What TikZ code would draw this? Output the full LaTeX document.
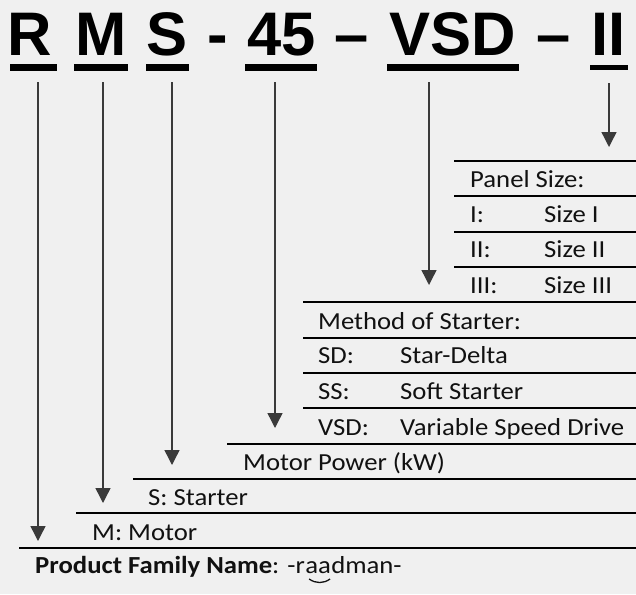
\documentclass[tikz,border=0pt]{standalone}
\usepackage{fontspec}
\setmainfont{Carlito}[FakeStretch=1.09]
\newfontfamily\titlefont{Liberation Sans}
\usetikzlibrary{positioning,arrows.meta}

\definecolor{bg}{HTML}{F0F0F0}
\definecolor{ink}{HTML}{111111}
\definecolor{arrowgray}{HTML}{3A3A3A}

\tikzset{
  code/.style={font=\titlefont\bfseries\fontsize{61.5}{70}\selectfont, text=black, inner sep=0pt, anchor=base},
  codebar/.style={line width=7pt, black},
  rule/.style={line width=2.4pt, black},
  label/.style={font=\fontsize{24.5}{29}\selectfont, text=ink, inner sep=0pt, anchor=base west},
  pointer/.style={arrowgray, line width=1.4pt, -{Triangle[length=15pt,width=15pt]}}
}

\begin{document}
\begin{tikzpicture}[x=1pt,y=-1pt]

        \fill[bg] (0,0) rectangle (636,594);
        \useasboundingbox (0,0) rectangle (636,594);

        % code letters
        \begin{scope}[every node/.style={code}]
          \node (R)   at (30,56)    {R};
          \node (M)   at (101,56)   {M};
          \node (S)   at (167,56)   {S};
          \node (d1)  at (217.5,56) {-};
          \node (45)  at (282,56)   {45};
          \node (d2)  at (351.5,56) {–};
          \node (VSD) at (453,56)   {VSD};
          \node (d3)  at (554,56)   {–};
          \node (II)  at (608.5,56) {II};
        \end{scope}

        \draw[codebar] (10,67)  -- (57,67);
        \draw[codebar] (74,67)  -- (128,67);
        \draw[codebar] (146,67) -- (189,67);
        \draw[codebar] (245,67) -- (317,67);
        \draw[codebar] (387,67) -- (519,67);
        \draw[codebar, line width=5pt] (590,67) -- (628,67);

        % start and end of the pointers
        \coordinate (R-top)   at (38,82);   \coordinate (R-end)   at (38,541);
        \coordinate (M-top)   at (103,82);  \coordinate (M-end)   at (103,503);
        \coordinate (S-top)   at (172,82);  \coordinate (S-end)   at (172,465);
        \coordinate (45-top)  at (275,82);  \coordinate (45-end)  at (275,428);
        \coordinate (VSD-top) at (429,82);  \coordinate (VSD-end) at (429,285);
        \coordinate (II-top)  at (609,83);  \coordinate (II-end)  at (609,147);

        \begin{scope}[every edge/.style={draw, pointer}]
          \path (R-top)   edge (R-end);
          \path (M-top)   edge (M-end);
          \path (S-top)   edge (S-end);
          \path (45-top)  edge (45-end);
          \path (VSD-top) edge (VSD-end);
          \path (II-top)  edge (II-end);
        \end{scope}

        % rules
        \draw[rule] (454,161) -- (636,161);
        \draw[rule] (454,196) -- (636,196);
        \draw[rule] (454,232) -- (636,232);
        \draw[rule] (454,267) -- (636,267);
        \draw[rule] (303,302) -- (636,302);
        \draw[rule] (303,338) -- (636,338);
        \draw[rule] (303,373) -- (636,373);
        \draw[rule] (303,408) -- (636,408);
        \draw[rule] (227,444) -- (636,444);
        \draw[rule] (133,479) -- (636,479);
        \draw[rule] (76,513)  -- (636,513);
        \draw[rule] (19,548)  -- (636,548);

        \begin{scope}[every node/.style={label}]
          \node (panel)  at (470,187) {Panel Size:};
          \node (p1)     at (470,222) {I:};
          \node (p1t)    at (544,222) {Size I};
          \node (p2)     at (470,257) {II:};
          \node (p2t)    at (544,257) {Size II};
          \node (p3)     at (470,293) {III:};
          \node (p3t)    at (544,293) {Size III};

          \node (method) at (318,329) {Method of Starter:};
          \node (m1)     at (318,363) {SD:};
          \node (m1t)    at (400,363) {Star-Delta};
          \node (m2)     at (318,399) {SS:};
          \node (m2t)    at (400,399) {Soft Starter};
          \node (m3)     at (318,435) {VSD:};
          \node (m3t)    at (400,435) {Variable Speed Drive};

          \node (power)   at (243,470) {Motor Power (kW)};
          \node (starter) at (148,505) {S: Starter};
          \node (motor)   at (92,540)  {M: Motor};

          \node (family)  at (35,573)  {\textbf{Product Family Name}: -r};
          \node (aa)      [base right=0pt of family] {aa};
          \node (dman)    [base right=0pt of aa] {dman-};
        \end{scope}

        \draw[ink, line width=1.3pt] ([shift={(4,6)}]aa.base west) to[bend right=35] ([shift={(-1,6)}]aa.base east);

\end{tikzpicture}
\end{document}
